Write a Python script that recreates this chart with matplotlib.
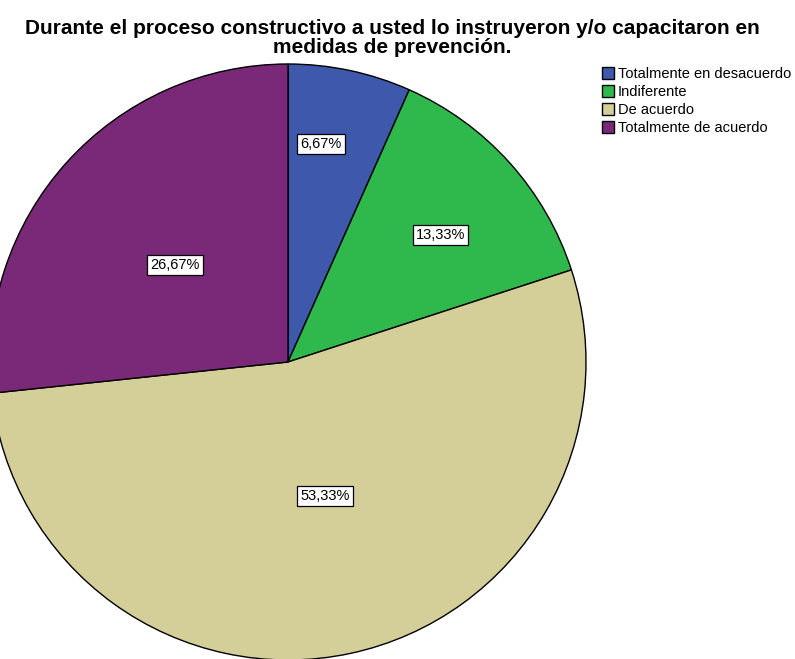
import numpy as np
import matplotlib
matplotlib.use("Agg")
import matplotlib.pyplot as plt

plt.rcParams['font.family'] = ['Liberation Sans', 'DejaVu Sans']

## Datos de la pregunta
categorias = ["Totalmente en desacuerdo", "Indiferente", "De acuerdo", "Totalmente de acuerdo"]
porcentajes = [6.67, 13.33, 53.33, 26.67]
colores = ["#3e58ac", "#2fb84c", "#d4cf98", "#7a2878"]
titulo = "Durante el proceso constructivo a usted lo instruyeron y/o capacitaron en\nmedidas de prevención."

W, H = 795, 659
fig = plt.figure(figsize=(W / 100, H / 100), dpi=100)
ax = fig.add_axes([0, 0, 1, 1])

cx, cy, r = 288, H - 362, 298
wedges, _ = ax.pie(porcentajes, colors=colores, startangle=90, counterclock=False,
                   center=(cx, cy), radius=r,
                   wedgeprops=dict(edgecolor="black", linewidth=1.0))
ax.set_xlim(0, W)
ax.set_ylim(0, H)
ax.set_aspect("equal")
ax.axis("off")

# posicion de cada etiqueta (en radios, respecto al centro)
lab_pos = [(0.111, 0.731), (0.512, 0.426), (0.125, -0.449), (-0.379, 0.325)]
for p, (dx, dy) in zip(porcentajes, lab_pos):
    ax.text(cx + dx * r, cy + dy * r, f"{p:.2f}%".replace(".", ","),
            ha="center", va="center", fontsize=10.5,
            bbox=dict(boxstyle="square,pad=0.22", fc="white", ec="black", lw=0.9))

fig.text(392 / W, 1 - 38 / H, titulo, ha="center", va="center",
         fontsize=15, fontweight="bold", linespacing=1.0)

fig.legend(wedges, categorias, loc="upper left", bbox_to_anchor=(602 / W, 1 - 67 / H),
           frameon=False, fontsize=10.5, handlelength=0.85, handleheight=0.85,
           handletextpad=0.25, labelspacing=0.27, borderpad=0, borderaxespad=0)

fig.savefig("out.png", dpi=100)
